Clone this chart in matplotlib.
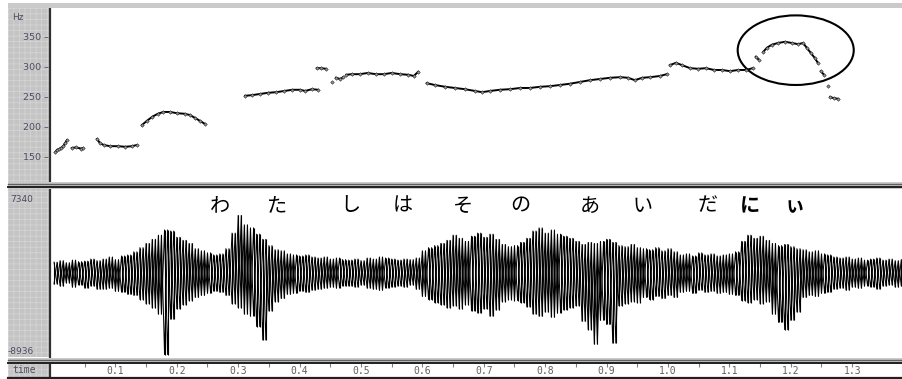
import numpy as np
import matplotlib
matplotlib.use("Agg")
import matplotlib.pyplot as plt
from matplotlib.lines import Line2D
from matplotlib.patches import Rectangle, Ellipse

# pitch track (s, Hz); nan breaks the voiced stretches
pitch_t = [0.002, 0.005, 0.008, 0.011, 0.015, 0.018, 0.021, np.nan,
           0.029, 0.036, 0.044, 0.047, np.nan,
           0.070, 0.075, 0.081, 0.091, 0.104, 0.116, 0.127, 0.135, np.nan,
           0.143, 0.151, 0.160, 0.169, 0.178, 0.189, 0.200, 0.213, 0.221, 0.230, 0.238, 0.246, np.nan,
           0.311, 0.322, 0.336, 0.349, 0.362, 0.375, 0.388, 0.401, 0.409, 0.420, 0.430, np.nan,
           0.428, 0.435, 0.443, np.nan, 0.453, np.nan, 0.459, 0.466, 0.471, np.nan,
           0.476, 0.485, 0.498, 0.511, 0.524, 0.537, 0.550, 0.564, 0.577, 0.586, 0.593, np.nan,
           0.607, 0.620, 0.637, 0.653, 0.669, 0.686, 0.697, 0.710, 0.726, 0.743, 0.759, 0.775,
           0.792, 0.808, 0.824, 0.840, 0.857, 0.873, 0.889, 0.906, 0.922, 0.935, 0.946, 0.958,
           0.971, 0.987, 0.998, np.nan,
           1.003, 1.013, 1.023, 1.036, 1.049, 1.062, 1.075, 1.088, 1.101, 1.114, 1.127, 1.138, np.nan,
           1.143, 1.148, np.nan, 1.155, 1.161, 1.169, 1.179, 1.191, 1.202, 1.212, 1.220, 1.226,
           1.233, 1.239, 1.244, np.nan, 1.249, 1.254, np.nan, 1.261, np.nan, 1.264, 1.270, 1.277]
pitch_hz = [158, 162, 163, 165, 168, 173, 178, np.nan,
            165, 166, 164, 165, np.nan,
            180, 173, 170, 168, 168, 167, 168, 170, np.nan,
            203, 210, 217, 222, 225, 225, 223, 222, 220, 215, 210, 205, np.nan,
            252, 253, 255, 257, 258, 260, 262, 262, 260, 263, 262, np.nan,
            298, 298, 297, np.nan, 275, np.nan, 282, 280, 283, np.nan,
            287, 288, 288, 290, 288, 288, 290, 288, 287, 285, 292, np.nan,
            273, 270, 267, 265, 263, 260, 258, 260, 262, 263, 265, 265,
            267, 268, 270, 272, 275, 278, 280, 282, 283, 282, 278, 282,
            283, 285, 288, np.nan,
            303, 307, 303, 298, 297, 298, 295, 295, 293, 295, 295, 298, np.nan,
            317, 312, np.nan, 325, 332, 337, 340, 342, 340, 338, 340, 332,
            323, 315, 307, np.nan, 293, 287, np.nan, 268, np.nan, 250, 248, 247]

# waveform envelope every 10 ms from 0.00 to 1.38 s (sample units)
wave_top = [200, 350, 150, 400, 250, 300, 500, 350,
            500, 700, 450, 800, 900,
            1200, 1600, 2000,
            2400, 2800, 3300, 3200,
            2600, 2300, 2000,
            1500, 1300, 1100,
            900, 1000, 1500,
            3000, 4700, 3800,
            3500, 2900, 2400,
            1800, 1400, 1300,
            1000, 900, 800, 900, 700,
            600, 700, 500, 600, 450,
            400, 500, 350, 600, 500, 700, 600, 500, 400, 500, 450, 600,
            1300, 1600, 1800,
            2000, 2300, 2800, 2500, 2200,
            2700, 3000, 2600, 2900, 2400,
            1900, 1700, 1800, 2100, 2500,
            3200, 3500, 3000, 3300, 2900,
            2700, 2500, 2200,
            1900, 2100, 2000,
            2200, 2400, 2100,
            1800, 1700, 1900, 1600,
            1500, 1400, 1600, 1300, 1500, 1200,
            900, 1000, 800, 1100, 900, 1000, 800, 900, 1000, 1200,
            2200, 2800, 2500, 2700, 2300,
            2000, 1800, 1900, 1700, 1500,
            1400, 1200, 1300, 1000, 900,
            700, 600, 700, 500, 600, 400, 500, 600, 400, 500, 350, 450]
wave_bot = [-1900, -2100, -1800, -2200, -2000, -2300, -2100, -2400,
            -2400, -2300, -2600, -2700, -2900,
            -3000, -3400, -3800,
            -4200, -4800, -8700, -5300,
            -4300, -3900, -3500,
            -3200, -3000, -2800,
            -2600, -2700, -3000,
            -3800, -4200, -4800,
            -5000, -6000, -7300,
            -4500, -3600, -3300,
            -2900, -2800, -2600, -2700, -2500,
            -2400, -2300, -2200, -2300, -2100,
            -2100, -2200, -2000, -2300, -2400, -2500, -2300, -2200, -2100, -2200, -2000, -2400,
            -3100, -3400, -3700,
            -3900, -4200, -4000, -4300, -3900,
            -4500, -4700, -4300, -5000, -4400,
            -3600, -3400, -3500, -3700, -4100,
            -4800, -5000, -4600, -5100, -4700,
            -4400, -4200, -4000,
            -5500, -6300, -7700,
            -5400, -5800, -7600,
            -4000, -3800, -3600, -3700,
            -3200, -3400, -3100, -3300, -3000, -3200,
            -2700, -2600, -2800, -2500, -2700, -2600, -2800, -2700, -2900, -3000,
            -3500, -3700, -3400, -3800, -3600,
            -4800, -5600, -6300, -5400, -4600,
            -3200, -3000, -3100, -2800, -2700,
            -2400, -2300, -2500, -2200, -2300, -2100, -2200, -2400, -2100, -2000, -2200, -2100]

hz_ticks = [150, 200, 250, 300, 350]
time_ticks = [0.1, 0.2, 0.3, 0.4, 0.5, 0.6, 0.7, 0.8, 0.9, 1.0, 1.1, 1.2, 1.3]
kana = ["わ", "た", "し", "は", "そ", "の", "あ", "い", "だ", "に", "ぃ"]
kana_x = [220, 277, 350, 403, 463, 520, 590, 643, 708, 750, 795]
kana_bold = [False] * 8 + [False, True, True]

W, H = 903, 379
fig = plt.figure(figsize=(W / 100, H / 100), dpi=100)


def rect(x0, y0, x1, y1):
    return [x0 / W, 1 - y1 / H, (x1 - x0) / W, (y1 - y0) / H]


plt.rcParams['hatch.color'] = '#d6d6d6'
plt.rcParams['hatch.linewidth'] = 0.5

# grey label strips on the left
for y0, y1 in [(8, 182), (188, 357), (363, 377)]:
    la = fig.add_axes(rect(8, y0, 50, y1))
    la.set_xlim(0, 1)
    la.set_ylim(0, 1)
    la.add_patch(Rectangle((0, 0), 1, 1, facecolor='#c4c4c4', hatch='+++',
                           edgecolor='#d6d6d6', linewidth=0))
    la.axis('off')

xl = ((50 - 54) / 614, (903 - 54) / 614)
lab_col = '#4c4c62'

# pitch panel
ax_p = fig.add_axes(rect(50, 8, 903, 182))
ax_p.plot(pitch_t, pitch_hz, color='black', lw=1.4, marker='D', ms=1.8,
          mfc='#9a9a9a', mec='#202020', mew=0.4)
ax_p.set_xlim(*xl)
ax_p.set_ylim(108.3, 398.3)
ax_p.set_xticks([])
ax_p.set_yticks(hz_ticks)
ax_p.set_yticklabels([f"{v} \u2013" for v in hz_ticks], fontsize=6.8, color=lab_col)
ax_p.tick_params(axis='y', length=0, pad=1)
for s in ['top', 'right', 'bottom']:
    ax_p.spines[s].set_visible(False)
ax_p.spines['left'].set_color('#303030')
ax_p.spines['left'].set_linewidth(1.6)
ax_p.add_patch(Ellipse((1.208, 328), 0.189, 116, fill=False, ec='black', lw=1.5))
fig.text(12 / W, 1 - 17 / H, "Hz", fontsize=6.5, color=lab_col, va='center')

# waveform panel
ax_w = fig.add_axes(rect(50, 188, 903, 357))
wt = np.arange(len(wave_top)) * 0.01
zz_t = np.ravel(np.column_stack([wt, wt + 0.005]))
ax_w.plot(zz_t, np.ravel(np.column_stack([wave_top, wave_bot])), color='black', lw=0.7)
ax_w.plot(zz_t, np.ravel(np.column_stack([wave_bot, wave_top])), color='black', lw=0.7)
ax_w.vlines(wt, wave_bot, wave_top, color='black', lw=0.8)
ax_w.vlines(wt + 0.005, wave_bot, wave_top, color='black', lw=0.8)
ax_w.set_xlim(*xl)
ax_w.set_ylim(-8936, 7340)
ax_w.set_xticks([])
ax_w.set_yticks([])
for s in ['top', 'right', 'bottom']:
    ax_w.spines[s].set_visible(False)
ax_w.spines['left'].set_color('#303030')
ax_w.spines['left'].set_linewidth(1.6)
fig.text(10 / W, 1 - 199 / H, "7340", fontsize=6.5, color=lab_col, va='center')
fig.text(8 / W, 1 - 352 / H, "-8936", fontsize=6.5, color=lab_col, va='center')

for ch, x, b in zip(kana, kana_x, kana_bold):
    fig.text(x / W, 1 - 206 / H, ch, fontsize=14.5, ha='center', va='center',
             family=['Noto Sans CJK JP', 'DejaVu Sans'],
             fontweight='bold' if b else 'normal')

# time strip
ax_t = fig.add_axes(rect(50, 363, 903, 377))
ax_t.set_xlim(*xl)
ax_t.set_ylim(0, 1)
ax_t.set_yticks([])
ax_t.set_xticks(time_ticks)
ax_t.set_xticks(np.array(time_ticks) - 0.05, minor=True)
ax_t.xaxis.set_ticks_position('top')
ax_t.tick_params(axis='x', which='both', direction='in', length=3, width=0.8,
                 color='#808080', labeltop=False, labelbottom=False)
for t in time_ticks:
    ax_t.text(t, 0.4, f"{t:.1f}", fontsize=7, color='#606060', ha='center',
              va='center', family='DejaVu Sans Mono')
for s in ['top', 'right', 'bottom']:
    ax_t.spines[s].set_visible(False)
ax_t.spines['left'].set_color('#303030')
ax_t.spines['left'].set_linewidth(1.6)
fig.text(12 / W, 1 - 370 / H, "time", fontsize=7, color='#505060', va='center',
         family='DejaVu Sans Mono')

# window borders and panel separators
for y0, y1 in [(3.5, 7.5), (181.5, 188.5), (357.5, 363.5)]:
    fig.add_artist(Rectangle((8 / W, 1 - y1 / H), 1, (y1 - y0) / H,
                             transform=fig.transFigure, facecolor='#cacaca',
                             edgecolor='none'))
for y, c, lw in [(183.5, '#606060', 1.0), (186.5, '#202020', 1.4),
                 (359.5, '#606060', 1.0), (362.5, '#202020', 1.4),
                 (377.8, '#202020', 1.6)]:
    fig.add_artist(Line2D([8 / W, 1], [1 - y / H] * 2, color=c, lw=lw))

fig.savefig("out.png", dpi=100)
